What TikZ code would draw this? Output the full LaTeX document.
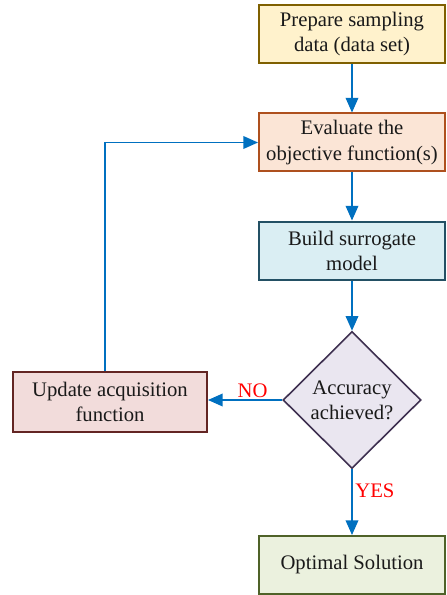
\documentclass[tikz,border=0pt]{standalone}
\usepackage{fontspec}
\setmainfont{Liberation Serif}
\usetikzlibrary{shapes.geometric,arrows.meta}
\definecolor{flowblue}{HTML}{0070C0}
\definecolor{noyes}{HTML}{FF0000}
\tikzset{
  stepbox/.style={draw,line width=1.5pt,minimum width=139.5pt,minimum height=43.5pt,
    align=center,inner sep=2pt,font=\fontsize{15.5}{18.8}\selectfont,text=black!90},
  decide/.style={diamond,draw,line width=1.2pt,minimum width=103.5pt,minimum height=102.75pt,
    inner sep=0pt,align=center,font=\fontsize{15.5}{18.8}\selectfont,text=black!90},
  flow/.style={draw=flowblue,line width=1.1pt,-{Triangle[length=11pt,width=9.5pt]}},
  answer/.style={text=noyes,font=\fontsize{15.5}{18}\selectfont}
}
\begin{document}
\begin{tikzpicture}[x=0.75pt,y=-0.75pt]
        \useasboundingbox (0,0) rectangle (446,595);
        \node[stepbox,fill={rgb,255:red,255;green,242;blue,204},draw={rgb,255:red,127;green,96;blue,0}] (prep) at (352,34) {Prepare sampling\\data (data set)};
        \node[stepbox,fill={rgb,255:red,251;green,229;blue,214},draw={rgb,255:red,174;green,80;blue,30}] (eval) at (352,142.5) {Evaluate the\\objective function(s)};
        \node[stepbox,fill={rgb,255:red,218;green,238;blue,243},draw={rgb,255:red,35;green,80;blue,100}] (build) at (352,250.5) {Build surrogate\\model};
        \node[decide,fill={rgb,255:red,234;green,230;blue,240},draw={rgb,255:red,63;green,49;blue,81}] (acc) at (352,400) {Accuracy\\achieved?};
        \node[stepbox,minimum width=145.5pt,minimum height=45pt,fill={rgb,255:red,242;green,220;blue,219},draw={rgb,255:red,99;green,37;blue,35}] (upd) at (110,402) {Update acquisition\\function};
        \node[stepbox,fill={rgb,255:red,235;green,241;blue,222},draw={rgb,255:red,79;green,98;blue,40}] (opt) at (352,565) {Optimal Solution};
        \draw[flow] (prep) -- (eval);
        \draw[flow] (eval) -- (build);
        \draw[flow] (build) -- (acc);
        \draw[flow] (acc.west) -- node[answer,pos=0.4,above,inner sep=1pt]{NO} (acc.west -| upd.east);
        \draw[flow] (acc) -- node[answer,pos=0.32,right,inner sep=2pt]{YES} (opt);
        \draw[flow] ([xshift=-3.75pt]upd.north) |- (eval);
        \end{tikzpicture}
\end{document}
